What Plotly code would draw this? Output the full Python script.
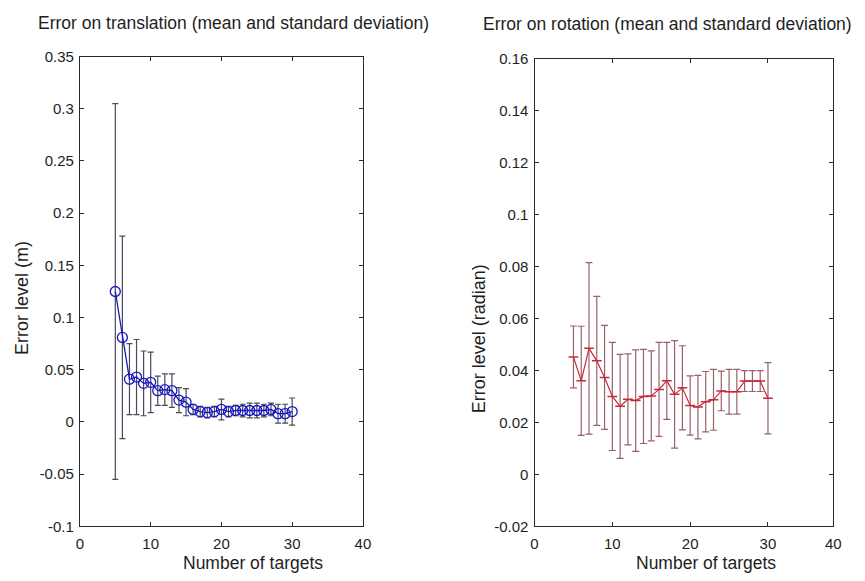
import plotly.graph_objects as go

# ---------------- data ----------------
targets = list(range(5, 31))

trans_mean = [0.125, 0.081, 0.041, 0.043, 0.037, 0.038, 0.030, 0.031, 0.030, 0.021,
              0.019, 0.012, 0.010, 0.009, 0.010, 0.012, 0.010, 0.011, 0.011, 0.011,
              0.011, 0.011, 0.012, 0.008, 0.008, 0.010]
trans_std = [0.180, 0.097, 0.034, 0.036, 0.031, 0.029, 0.014, 0.015, 0.016, 0.012,
             0.013, 0.005, 0.005, 0.005, 0.005, 0.010, 0.005, 0.005, 0.006, 0.007,
             0.007, 0.006, 0.006, 0.009, 0.009, 0.013]

rot_mean = [0.0452, 0.0360, 0.0485, 0.0437, 0.0373, 0.0300, 0.0262, 0.0289, 0.0284, 0.0300,
            0.0302, 0.0327, 0.0360, 0.0308, 0.0333, 0.0265, 0.0259, 0.0280, 0.0287, 0.0321,
            0.0318, 0.0318, 0.0359, 0.0359, 0.0359, 0.0293]
rot_std = [0.0119, 0.0210, 0.0330, 0.0248, 0.0200, 0.0208, 0.0200, 0.0175, 0.0195, 0.0181,
           0.0173, 0.0181, 0.0148, 0.0207, 0.0162, 0.0114, 0.0122, 0.0116, 0.0117, 0.0076,
           0.0086, 0.0086, 0.0040, 0.0040, 0.0040, 0.0137]

x1_ticks = [0, 10, 20, 30, 40]
x_ticktext = ["0", "10", "20", "30", "40"]
# the right panel of the reference is squeezed after 30: its "40" sits at the frame edge
x2_end = 38.4
x2_ticks = [0, 10, 20, 30, x2_end]
y1_ticks = [-0.1, -0.05, 0, 0.05, 0.1, 0.15, 0.2, 0.25, 0.3, 0.35]
y1_ticktext = ["-0.1", "-0.05", "0", "0.05", "0.1", "0.15", "0.2", "0.25", "0.3", "0.35"]
y2_ticks = [-0.02, 0, 0.02, 0.04, 0.06, 0.08, 0.1, 0.12, 0.14, 0.16]
y2_ticktext = ["-0.02", "0", "0.02", "0.04", "0.06", "0.08", "0.1", "0.12", "0.14", "0.16"]

title_left = "Error on translation (mean and standard deviation)"
title_right = "Error on rotation (mean and standard deviation)"
ylabel_left = "Error level (m)"
ylabel_right = "Error level (radian)"
xlabel = "Number of targets"

# ---------------- figure ----------------
W, H = 865, 581
FONT = "Liberation Sans, Arial, sans-serif"
TXT = "#1e1e1e"


def fx(p):
    return p / W


def fy(p):
    return 1 - p / H


fig = go.Figure()

fig.add_trace(go.Scatter(
    x=targets, y=trans_mean, mode="lines+markers",
    line=dict(color="#1616c0", width=1.3),
    marker=dict(symbol="circle-open", size=10, color="#1616c0", line=dict(width=1.3)),
    error_y=dict(type="data", array=trans_std, color="#4a4a5a", thickness=1.2, width=3),
    xaxis="x", yaxis="y", showlegend=False, hoverinfo="x+y"))

fig.add_trace(go.Scatter(
    x=targets, y=rot_mean, mode="lines+markers",
    line=dict(color="#c8283c", width=1.2),
    marker=dict(symbol="line-ew", size=7, color="#c8283c", line=dict(width=1.5, color="#c8283c")),
    error_y=dict(type="data", array=rot_std, color="#9a6068", thickness=1.2, width=3.5),
    xaxis="x2", yaxis="y2", showlegend=False, hoverinfo="x+y"))

axis_common = dict(
    showline=True, linecolor="#2a2a2a", linewidth=1.2, mirror="ticks",
    ticks="inside", ticklen=4, tickcolor="#2a2a2a", tickwidth=1.2,
    showgrid=False, zeroline=False,
    tickfont=dict(family=FONT, size=15, color=TXT),
)

fig.update_layout(
    width=W, height=H,
    margin=dict(l=0, r=0, t=0, b=0),
    paper_bgcolor="white", plot_bgcolor="white",
    font=dict(family=FONT, color=TXT),
    xaxis=dict(domain=[fx(77), fx(364)], range=[0, 40], tickmode="array",
               tickvals=x1_ticks, ticktext=x_ticktext, anchor="y", ticklabelstandoff=3, **axis_common),
    yaxis=dict(domain=[fy(533), fy(49)], range=[-0.1, 0.35], tickmode="array",
               tickvals=y1_ticks, ticktext=y1_ticktext, anchor="x", ticklabelstandoff=2, **axis_common),
    xaxis2=dict(domain=[fx(538), fx(841)], range=[0, x2_end], tickmode="array",
                tickvals=x2_ticks, ticktext=x_ticktext, anchor="y2", ticklabelstandoff=3, **axis_common),
    yaxis2=dict(domain=[fy(533), fy(51)], range=[-0.02, 0.16], tickmode="array",
                tickvals=y2_ticks, ticktext=y2_ticktext, anchor="x2", ticklabelstandoff=2, **axis_common),
)

ann = dict(xref="paper", yref="paper", showarrow=False)
tfont = dict(family=FONT, size=17.5, color=TXT)
lfont = dict(family=FONT, size=18, color=TXT)
xfont = dict(family=FONT, size=17.5, color=TXT)
fig.add_annotation(text=title_left, x=fx(233), y=fy(14), xanchor="center", yanchor="middle", font=tfont, **ann)
fig.add_annotation(text=title_right, x=fx(673), y=fy(15), xanchor="center", yanchor="middle", font=tfont, **ann)
fig.add_annotation(text=ylabel_left, x=fx(19), y=fy(298), textangle=-90,
                   xanchor="center", yanchor="middle", font=lfont, **ann)
fig.add_annotation(text=ylabel_right, x=fx(482), y=fy(340), textangle=-90,
                   xanchor="center", yanchor="middle", font=lfont, **ann)
fig.add_annotation(text=xlabel, x=fx(253), y=fy(571), xanchor="center", yanchor="middle", font=xfont, **ann)
fig.add_annotation(text=xlabel, x=fx(712), y=fy(571), xanchor="center", yanchor="middle", font=xfont, **ann)

fig.write_html("out.html")
